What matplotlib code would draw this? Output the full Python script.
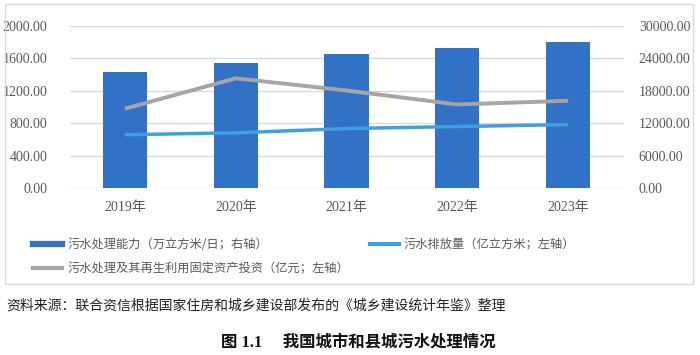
import numpy as np
import matplotlib.pyplot as plt
from matplotlib.lines import Line2D
from matplotlib.patches import Rectangle

plt.rcParams['font.family'] = ['Noto Sans CJK SC', 'DejaVu Sans']

years = ['2019年', '2020年', '2021年', '2022年', '2023年']
capacity = [21450, 23090, 24820, 25860, 27050]      # 万立方米/日，右轴
discharge = [658, 681, 734, 759, 783]               # 亿立方米，左轴
investment = [979, 1354, 1204, 1031, 1077]          # 亿元，左轴
left_ticks = [0, 400, 800, 1200, 1600, 2000]
right_ticks = [0, 6000, 12000, 18000, 24000, 30000]

c_bar = '#3171C6'
c_blue = '#3FA0DF'
c_gray = '#A5A5A5'
c_text = '#595959'
serif = ['Liberation Serif', 'Noto Sans CJK SC']

W, H = 700, 355
fig = plt.figure(figsize=(7, 3.55), dpi=100)

# 外框
fig.patches.append(Rectangle((5 / W, 1 - 284 / H), 688 / W, 280 / H,
                             transform=fig.transFigure, fill=False,
                             edgecolor='#D9D9D9', lw=1))

ax = fig.add_axes([69.5 / W, 1 - 188 / H, 554 / W, 162 / H])
x = np.arange(len(years))
ax.bar(x, capacity, width=0.4, color=c_bar, zorder=2)
ax.set_ylim(0, 30000)
ax.set_xlim(-0.5, len(years) - 0.5)
ax.set_xticks(x)
ax.set_xticklabels(years, family=serif, fontsize=10, color=c_text)
ax.tick_params(axis='x', length=0, pad=9)
ax.grid(axis='y', color='#D9D9D9', lw=1, zorder=0)
ax.set_axisbelow(True)
for s in ax.spines.values():
    s.set_visible(False)

ax2 = ax.twinx()
ax2.plot(x, investment, color=c_gray, lw=2.8, solid_capstyle='butt')
ax2.plot(x, discharge, color=c_blue, lw=2.5, solid_capstyle='butt')
ax2.set_ylim(0, 2000)
ax2.yaxis.tick_left()
ax2.set_yticks(left_ticks)
ax2.set_yticklabels(['%.2f' % v for v in left_ticks], family=serif, fontsize=10, color=c_text)
ax2.tick_params(axis='y', length=0, pad=16)
for s in ax2.spines.values():
    s.set_visible(False)

# 右轴（柱）刻度，twinx 之后再设到右侧
ax.yaxis.tick_right()
ax.set_yticks(right_ticks)
ax.set_yticklabels(['%.2f' % v for v in right_ticks], family=serif, fontsize=10, color=c_text)
ax.tick_params(axis='y', length=0, pad=11)

handles = [Line2D([], [], color=c_bar, lw=4.5),
           Line2D([], [], color=c_gray, lw=3),
           Line2D([], [], color=c_blue, lw=3)]
labels = ['污水处理能力（万立方米/日；右轴）',
          '污水处理及其再生利用固定资产投资（亿元；左轴）',
          '污水排放量（亿立方米；左轴）']
leg = fig.legend(handles, labels, ncol=2, loc='upper left',
                 bbox_to_anchor=(28 / W, 1 - 233 / H), frameon=False,
                 fontsize=8.8, handlelength=2.4, handletextpad=0.4,
                 labelspacing=0.95, columnspacing=1.7, borderaxespad=0)
for t in leg.get_texts():
    t.set_color(c_text)

fig.text(6 / W, 1 - 306 / H,
         '资料来源：联合资信根据国家住房和城乡建设部发布的《城乡建设统计年鉴》整理',
         fontsize=10, color='#222222', va='center', ha='left')
fig.text(358 / W, 1 - 343 / H, '图 1.1     我国城市和县城污水处理情况',
         family=serif, fontsize=11.8, fontweight='bold', color='#111111',
         va='center', ha='center')

fig.savefig('out.png', dpi=100)
